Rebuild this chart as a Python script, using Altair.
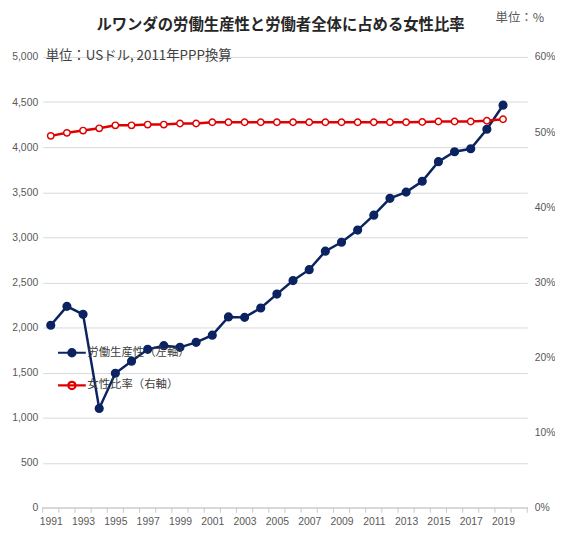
import altair as alt
import pandas as pd

# ---- data ----
years = list(range(1991, 2020))
categories = list(range(1991, 2021))  # category axis incl. empty 2020 slot
productivity = [2025, 2234, 2146, 1102, 1492, 1626, 1758, 1798, 1780, 1835,
                1915, 2117, 2112, 2216, 2370, 2520, 2641, 2846, 2945, 3080,
                3245, 3432, 3501, 3622, 3839, 3949, 3982, 4198, 4465]
female_ratio = [49.5, 49.9, 50.2, 50.5, 50.9, 50.9, 51.0, 51.0, 51.15, 51.15,
                51.3, 51.3, 51.3, 51.3, 51.3, 51.3, 51.3, 51.3, 51.3, 51.3,
                51.3, 51.3, 51.3, 51.35, 51.4, 51.4, 51.4, 51.5, 51.7]
series_names = ["労働生産性（左軸）", "女性比率（右軸）"]
x_labels = list(range(1991, 2020, 2))
left_ticks = list(range(0, 5001, 500))
right_ticks = [0, 0.1, 0.2, 0.3, 0.4, 0.5, 0.6]

title_text = "ルワンダの労働生産性と労働者全体に占める女性比率"
unit_left = "単位：USドル, 2011年PPP換算"
unit_right = "単位：%"

NAVY = "#0b2360"
RED = "#e00000"
GRID = "#d9d9d9"
TXT = "#595959"
NUMFONT = "Liberation Sans"
JPFONT = "Noto Sans CJK JP"

df = pd.DataFrame({
    "year": years * 2,
    "value": productivity + [v / 100 for v in female_ratio],
    "series": [series_names[0]] * len(years) + [series_names[1]] * len(years),
})
bounds = pd.DataFrame({"year": [c - 0.5 for c in categories] + [categories[-1] + 0.5]})

W, H = 489, 455
PL = 35

xscale = alt.Scale(domain=[categories[0] - 0.5, categories[-1] + 0.5], nice=False, zero=False)
xaxis = alt.Axis(values=x_labels, format="d", grid=False, domain=False, ticks=False,
                 labelPadding=9, labelFont=NUMFONT, labelFontSize=10.5, labelColor=TXT,
                 title=None)
x = alt.X("year:Q", scale=xscale, axis=xaxis)

SYM = "M -1 0 L 1 0 M 0.26 0 A 0.26 0.26 0 1 1 -0.26 0 A 0.26 0.26 0 1 1 0.26 0 Z"
legend_kw = dict(title=None, orient="none", legendX=14, legendY=283,
                 symbolType=SYM, symbolSize=784, symbolStrokeWidth=2.2,
                 labelFont=JPFONT, labelFontSize=11.5, labelColor="#404040",
                 labelOffset=0, rowPadding=9, padding=0)
stroke_enc = alt.Stroke("series:N", scale=alt.Scale(domain=series_names, range=[NAVY, RED]),
                        legend=alt.Legend(**legend_kw))
fill_enc = alt.Fill("series:N", scale=alt.Scale(domain=series_names, range=[NAVY, "white"]),
                    legend=alt.Legend(**legend_kw))

left_y = alt.Y("value:Q", scale=alt.Scale(domain=[0, 5000], nice=False),
               axis=alt.Axis(values=left_ticks, format=",.0f", orient="left", domain=False,
                             ticks=False, grid=True, gridColor=GRID, labelPadding=5,
                             labelFont=NUMFONT, labelFontSize=10.5, labelColor=TXT, title=None))
right_y = alt.Y("value:Q", scale=alt.Scale(domain=[0, 0.6], nice=False),
                axis=alt.Axis(values=right_ticks, format=".0%", orient="right", domain=False,
                              ticks=False, grid=False, labelPadding=7,
                              labelFont=NUMFONT, labelFontSize=10.5, labelColor=TXT, title=None))

base = alt.Chart(df)

prod = base.transform_filter(alt.datum.series == series_names[0])
ratio = base.transform_filter(alt.datum.series == series_names[1])

prod_layer = alt.layer(
    prod.mark_line(strokeWidth=2.5).encode(x=x, y=left_y, stroke=stroke_enc),
    prod.mark_point(filled=False, size=60, strokeWidth=1.5, opacity=1).encode(
        x=x, y=left_y, stroke=stroke_enc, fill=fill_enc),
)

ratio_layer = alt.layer(
    ratio.mark_line(strokeWidth=2.5).encode(x=x, y=right_y, stroke=stroke_enc),
    ratio.mark_point(filled=False, size=42, strokeWidth=1.5, opacity=1).encode(
        x=x, y=right_y, stroke=stroke_enc, fill=fill_enc),
)

ticks = alt.Chart(bounds).mark_rule(color="#c8c8c8", strokeWidth=1).encode(
    x=x, y=alt.value(H), y2=alt.value(H + 5))

baseline = alt.Chart(bounds).mark_rule(color=GRID, strokeWidth=1).encode(
    x=alt.value(0), x2=alt.value(W), y=alt.value(H))

title_mark = alt.Chart(pd.DataFrame({"t": [title_text]})).mark_text(
    align="center", baseline="middle", font=JPFONT, fontSize=15.5, fontWeight="bold",
    color="#262626"
).encode(text="t:N", x=alt.value(240), y=alt.value(-32))

note_left = alt.Chart(pd.DataFrame({"t": [unit_left]})).mark_text(
    align="left", baseline="middle", font=JPFONT, fontSize=13.5, color="#404040"
).encode(text="t:N", x=alt.value(3), y=alt.value(-1))

note_right = alt.Chart(pd.DataFrame({"t": [unit_right]})).mark_text(
    align="left", baseline="middle", font=JPFONT, fontSize=12.5, color=TXT
).encode(text="t:N", x=alt.value(457), y=alt.value(-39))

chart = alt.layer(
    baseline, ticks, prod_layer, ratio_layer, title_mark, note_left, note_right
).resolve_scale(y="independent").properties(
    width=W, height=H,
    autosize=alt.AutoSizeParams(type="none"),
    padding={"left": PL, "top": 47, "right": 28, "bottom": 22},
).configure_view(stroke=None)

chart.save("out.html", embed_options={"renderer": "svg", "actions": False})
